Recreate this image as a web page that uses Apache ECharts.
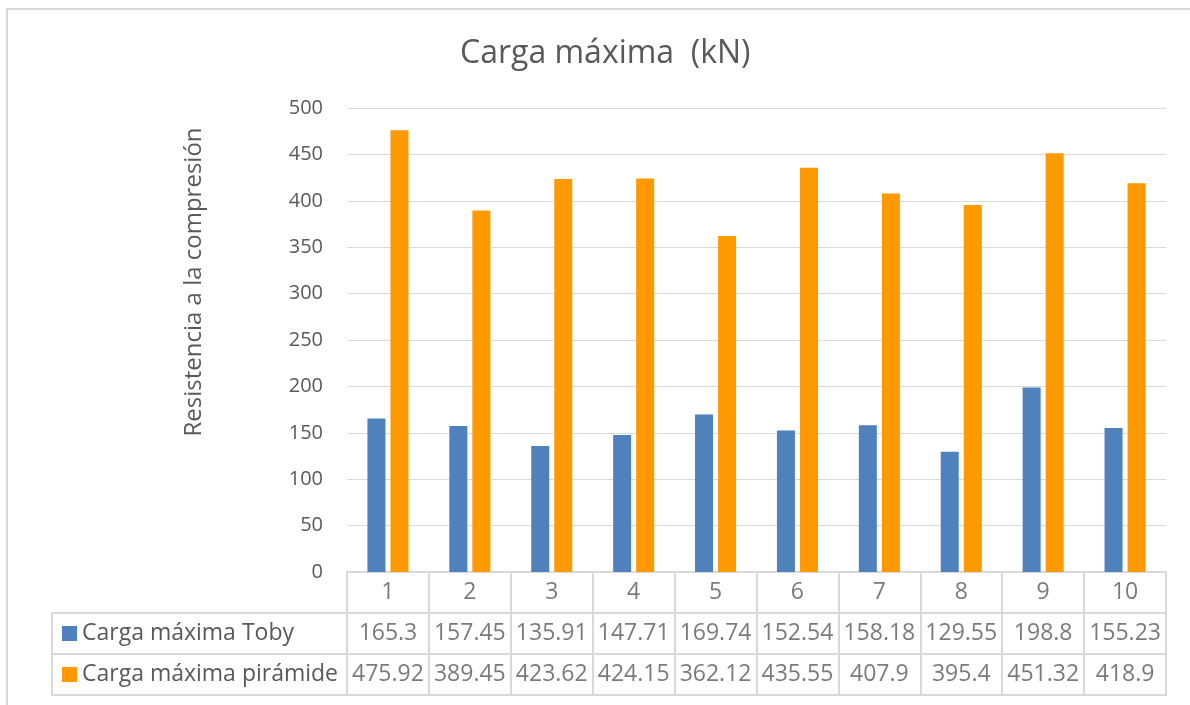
<!DOCTYPE html>
<html>
<head>
<meta charset="utf-8">
<script src="https://cdn.jsdelivr.net/npm/echarts@6/dist/echarts.min.js"></script>
<style>
  html, body { margin: 0; padding: 0; background: #fff; }
  #chart { width: 1190px; height: 705px; }
</style>
</head>
<body>
<div id="chart"></div>
<script>
const categories = ['1', '2', '3', '4', '5', '6', '7', '8', '9', '10']
const toby = [165.3, 157.45, 135.91, 147.71, 169.74, 152.54, 158.18, 129.55, 198.8, 155.23]
const piramide = [475.92, 389.45, 423.62, 424.15, 362.12, 435.55, 407.9, 395.4, 451.32, 418.9]
const seriesNames = ['Carga máxima Toby', 'Carga máxima pirámide']
const yTicks = [0, 500, 50] // min, max, interval

const font = 'Open Sans'
const textColor = '#595959'
const lineColor = '#d9d9d9'

// filas de la tabla de datos: categoria, toby, piramide
const tableRows = [categories, toby, piramide]
const cells = []
tableRows.forEach((row, r) => {
  row.forEach((v, i) => {
    cells.push({ value: [i, r], text: String(v) })
  })
})

const chart = echarts.init(document.getElementById('chart'))

chart.setOption({
  animation: false,
  title: {
    text: 'Carga máxima  (kN)',
    left: 455,
    top: 33,
    textStyle: { fontFamily: font, fontSize: 32, fontWeight: 'normal', color: textColor }
  },
  legend: {
    data: seriesNames,
    orient: 'vertical',
    left: 62,
    top: 613,
    padding: 0,
    itemWidth: 15,
    itemHeight: 15,
    itemGap: 0,
    icon: 'rect',
    selectedMode: false,
    textStyle: { fontFamily: font, fontSize: 23, color: textColor, lineHeight: 41 }
  },
  grid: [
    // area de barras
    { left: 347, right: 24, top: 108, bottom: 133 },
    // celdas de la tabla
    { left: 347, right: 24, top: 572, bottom: 10, show: true, borderColor: lineColor, borderWidth: 2 },
    // columna de leyenda
    { left: 52, right: 843, top: 613, bottom: 10, show: true, borderColor: lineColor, borderWidth: 2 }
  ],
  xAxis: [
    {
      type: 'category', gridIndex: 0, data: categories,
      axisLine: { show: false }, axisTick: { show: false }, axisLabel: { show: false }
    },
    {
      type: 'category', gridIndex: 1, data: categories,
      axisLine: { show: false }, axisTick: { show: false }, axisLabel: { show: false },
      splitLine: { show: true, lineStyle: { color: lineColor, width: 2 } }
    },
    {
      type: 'value', gridIndex: 2, show: false
    }
  ],
  yAxis: [
    {
      type: 'value', gridIndex: 0, min: yTicks[0], max: yTicks[1], interval: yTicks[2],
      axisLine: { show: false }, axisTick: { show: false },
      axisLabel: { fontFamily: font, fontSize: 20, color: textColor, margin: 24 },
      splitLine: { lineStyle: { color: lineColor, width: 1 } }
    },
    {
      type: 'category', gridIndex: 1, data: ['cat', 'toby', 'piramide'], inverse: true,
      axisLine: { show: false }, axisTick: { show: false }, axisLabel: { show: false },
      splitLine: { show: true, lineStyle: { color: lineColor, width: 2 } }
    },
    {
      type: 'category', gridIndex: 2, data: seriesNames, inverse: true,
      axisLine: { show: false }, axisTick: { show: false }, axisLabel: { show: false },
      splitLine: { show: true, lineStyle: { color: lineColor, width: 2 } }
    }
  ],
  series: [
    {
      name: seriesNames[0], type: 'bar', xAxisIndex: 0, yAxisIndex: 0,
      data: toby, barWidth: 18, barGap: '28%',
      itemStyle: { color: '#4f81bd' }
    },
    {
      name: seriesNames[1], type: 'bar', xAxisIndex: 0, yAxisIndex: 0,
      data: piramide, barWidth: 18, barGap: '28%',
      itemStyle: { color: '#ff9900' }
    },
    {
      name: 'tabla', type: 'scatter', xAxisIndex: 1, yAxisIndex: 1,
      symbolSize: 0, silent: true,
      data: cells,
      label: {
        show: true, position: 'inside',
        formatter: p => p.data.text,
        fontFamily: font, fontSize: 23, color: textColor
      }
    }
  ],
  graphic: [
    {
      type: 'rect', silent: true,
      shape: { x: 7, y: 9, width: 1200, height: 720 },
      style: { fill: null, stroke: lineColor, lineWidth: 2 }
    },
    {
      type: 'text', silent: true,
      x: 194, y: 282, rotation: Math.PI / 2,
      style: {
        text: 'Resistencia a la compresión',
        fontFamily: font, fontSize: 24, fill: textColor,
        align: 'center', verticalAlign: 'middle'
      }
    }
  ]
})
</script>
</body>
</html>
